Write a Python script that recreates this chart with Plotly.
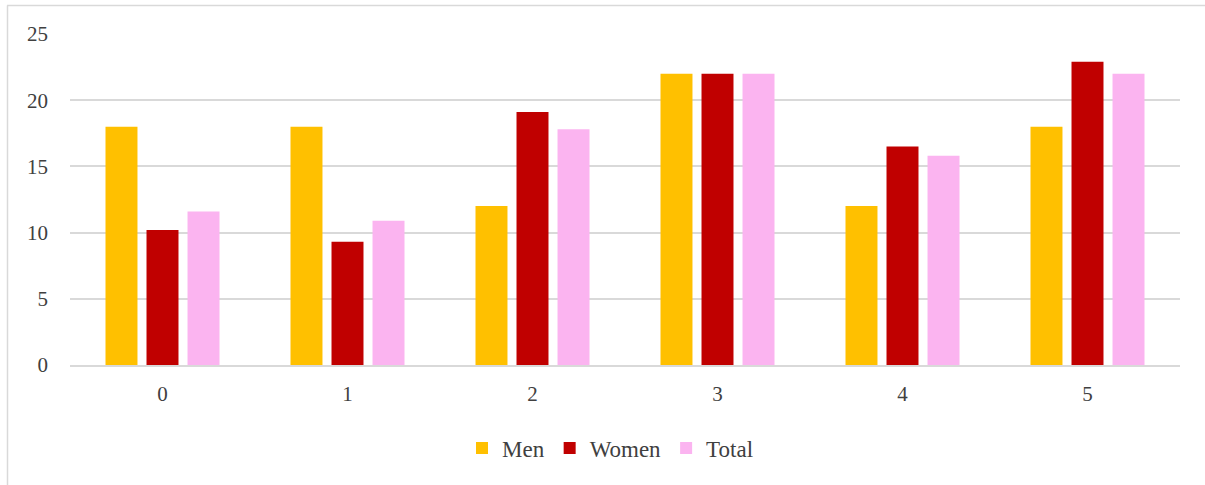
import plotly.graph_objects as go

categories = ["0", "1", "2", "3", "4", "5"]
men = [18, 18, 12, 22, 12, 18]
women = [10.2, 9.3, 19.1, 22, 16.5, 22.9]
total = [11.6, 10.9, 17.8, 22, 15.8, 22]
series_names = ["Men", "Women", "Total"]
colors = ["#FFC000", "#C00000", "#FBB4F0"]
y_ticks = [0, 5, 10, 15, 20, 25]

FONT = "Liberation Serif, DejaVu Serif, serif"
TXT = "#404040"

fig = go.Figure()
for name, vals, col in zip(series_names, [men, women, total], colors):
    fig.add_trace(go.Bar(x=categories, y=vals, name=name,
                         marker=dict(color=col, line=dict(width=0))))

W, H = 1205, 485
ml, mr, mt, mb = 70, 25, 34, 120
pw = W - ml - mr
ph = H - mt - mb

def px_x(p):
    return (p - ml) / pw

def px_y(p):
    return (H - mb - p) / ph

fig.update_layout(
    width=W, height=H,
    margin=dict(l=ml, r=mr, t=mt, b=mb),
    paper_bgcolor="white", plot_bgcolor="white",
    barmode="group", bargap=0.335, bargroupgap=0.22,
    font=dict(family=FONT, size=21, color=TXT),
    showlegend=True,
    legend=dict(orientation="h", x=px_x(462), xanchor="left", y=px_y(448), yanchor="middle",
                font=dict(family=FONT, size=23, color=TXT),
                itemwidth=30, itemsizing="constant", traceorder="normal"),
    xaxis=dict(type="category", showgrid=False, showline=True, linecolor="#D9D9D9",
               linewidth=1.5, ticks="", tickfont=dict(size=21, color=TXT), ticklabelstandoff=9),
    yaxis=dict(range=[0, 25], tickvals=y_ticks, showgrid=True, gridcolor="#D9D9D9",
               gridwidth=1.5, zeroline=False, showline=False, ticks="",
               tickfont=dict(size=21, color=TXT), ticklabelstandoff=21),
    shapes=[
        dict(type="line", xref="paper", yref="paper", x0=px_x(7), x1=px_x(1205),
             y0=px_y(5.5), y1=px_y(5.5), line=dict(color="#D9D9D9", width=1.5)),
        dict(type="line", xref="paper", yref="paper", x0=px_x(7.5), x1=px_x(7.5),
             y0=px_y(5.5), y1=px_y(490), line=dict(color="#D9D9D9", width=1.5)),
    ],
)

fig.write_html("out.html")
